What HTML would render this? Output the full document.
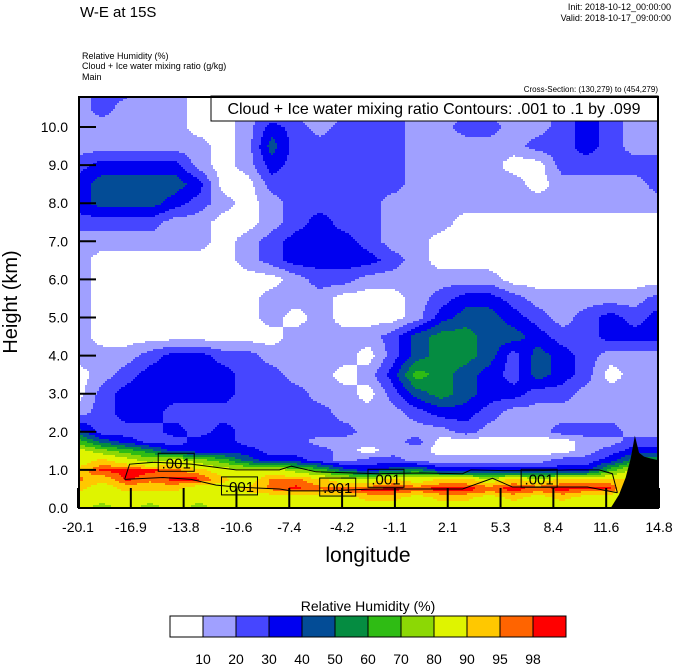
<!DOCTYPE html>
<html><head><meta charset="utf-8">
<style>
html,body{margin:0;padding:0;background:#fff;}
svg{display:block;font-family:"Liberation Sans",sans-serif;}
</style></head>
<body>
<svg id="chart" width="674" height="667" viewBox="0 0 674 667">
<text x="80" y="17" font-size="15">W-E at 15S</text>
<text x="671" y="10" font-size="9" text-anchor="end">Init: 2018-10-12_00:00:00</text>
<text x="671" y="21" font-size="9" text-anchor="end">Valid: 2018-10-17_09:00:00</text>
<text x="82" y="59" font-size="9">Relative Humidity   (%)</text>
<text x="82" y="69" font-size="9">Cloud + Ice water mixing ratio   (g/kg)</text>
<text x="82" y="80" font-size="9">Main</text>
<text x="658" y="92" font-size="8" text-anchor="end">Cross-Section: (130,279) to (454,279)</text>
<g id="field"></g>
<g id="terrain"></g>
<g id="contours"></g>
<g id="ticks"></g>
<rect x="211" y="96" width="447" height="25" fill="#fff" stroke="#000" stroke-width="1"/>
<text x="434" y="114" font-size="16" text-anchor="middle">Cloud + Ice water mixing ratio Contours: .001 to .1 by .099</text>
<rect x="79" y="97" width="579" height="411" fill="none" stroke="#000" stroke-width="2"/>
<g id="ylabels"></g>
<g id="xlabels"></g>
<text transform="translate(17,302) rotate(-90)" font-size="20" text-anchor="middle">Height (km)</text>
<text x="368" y="562" font-size="21" text-anchor="middle">longitude</text>
<text x="368" y="611" font-size="14" text-anchor="middle">Relative Humidity  (%)</text>
<g id="cbar"></g>
</svg>
<script>
const NS="http://www.w3.org/2000/svg";
// ---- data ----
const xTickLabels=["-20.1","-16.9","-13.8","-10.6","-7.4","-4.2","-1.1","2.1","5.3","8.4","11.6","14.8"];
const yTickLabels=["0.0","1.0","2.0","3.0","4.0","5.0","6.0","7.0","8.0","9.0","10.0"];
const levels=[10,20,30,40,50,60,70,80,90,95,98];
const levelLabels=["10","20","30","40","50","60","70","80","90","95","98"];
const colors=["#ffffff","#a0a0ff","#4646ff","#0000f0","#034c96","#058c41","#2fbc14","#8cd805","#dff400","#ffc800","#ff6400","#ff0000"];
const heights=[0,0.25,0.5,0.75,1.0,1.25,1.5,1.75,2,2.5,3,3.5,4,4.5,5,5.5,6,6.5,7,7.5,8,8.5,9,9.5,10,10.5,11];
// RH rows (%) by height, 25 columns from lon -20.1 to 14.8
const W=5,L=15,M=25,B=35,D=45,G=55,g=65,y=75,Y=85,O=92,R=96,X=99;
const rh=[
[Y,y,Y,y,Y,y,Y,Y,Y,Y,Y,Y,Y,Y,Y,Y,Y,Y,Y,Y,Y,Y,Y,y,y],
[Y,Y,Y,Y,Y,Y,Y,Y,Y,Y,Y,Y,O,O,Y,O,O,Y,O,Y,O,Y,Y,y,y],
[O,Y,O,O,O,Y,Y,O,R,X,R,X,X,X,X,X,X,X,X,X,X,X,X,Y,Y],
[R,O,X,R,X,X,O,Y,R,R,O,Y,Y,O,Y,O,O,Y,O,Y,O,O,O,O,O],
[O,X,X,X,R,O,Y,Y,Y,y,g,D,B,D,G,B,B,B,B,B,B,B,g,Y,Y],
[Y,O,Y,y,Y,y,g,D,B,B,M,L,M,M,L,L,L,L,L,L,M,M,B,G,G],
[Y,y,g,G,B,B,B,B,M,M,M,L,W,L,L,W,W,W,W,W,W,L,M,B,B],
[g,D,B,M,M,B,B,M,M,M,L,L,L,L,M,W,W,W,W,W,W,L,L,M,M],
[D,M,M,M,B,M,B,M,M,M,M,M,L,L,L,L,M,L,L,L,M,M,M,L,L],
[L,M,B,B,M,M,M,M,M,M,M,L,L,L,M,B,B,M,L,L,L,L,L,L,L],
[W,M,B,B,B,B,B,M,M,M,L,L,W,M,D,G,D,B,B,M,M,L,L,L,L],
[W,L,M,B,B,B,B,M,M,L,L,W,L,B,g,G,D,B,M,D,B,M,W,L,L],
[L,L,L,M,B,B,M,M,L,L,L,L,W,M,D,G,G,D,M,D,B,M,L,L,L],
[L,W,W,W,W,W,W,W,W,L,L,L,L,M,D,G,G,D,D,B,M,M,B,B,B],
[L,W,W,W,W,W,W,W,L,W,L,W,W,W,L,B,D,D,B,M,L,M,B,M,B],
[L,W,W,W,W,W,W,W,L,L,L,W,W,W,L,M,B,B,M,L,L,L,L,L,M],
[L,W,W,W,W,W,W,W,W,L,M,M,L,L,L,L,L,L,W,W,W,W,W,W,W],
[L,W,W,W,W,W,W,L,M,B,B,B,B,M,L,W,W,W,W,W,W,W,W,W,W],
[L,L,L,L,L,L,W,L,M,B,B,B,M,L,L,W,W,W,W,W,W,W,W,W,W],
[M,M,M,M,L,L,W,W,L,M,B,M,M,L,L,L,W,W,W,W,W,W,W,W,W],
[B,D,D,D,B,M,L,W,L,M,M,M,M,L,L,L,L,L,L,L,L,L,L,L,L],
[B,D,D,D,D,B,W,W,M,M,M,M,M,M,L,L,L,L,L,W,L,L,L,L,M],
[M,B,B,B,B,L,W,L,B,M,M,M,M,M,L,L,L,L,W,W,M,M,M,M,M],
[L,L,L,L,L,L,W,L,D,M,M,M,M,M,L,L,L,L,L,M,M,B,M,L,L],
[L,L,L,L,L,W,W,L,B,M,L,M,M,M,L,L,M,M,L,L,M,B,M,L,L],
[L,M,L,L,L,W,W,L,L,L,L,L,L,M,L,L,L,L,L,L,M,B,M,L,L],
[L,M,M,L,L,W,W,L,L,L,L,L,L,M,L,L,L,L,L,L,M,M,L,L,L]
];
const terrainLon=[11.9,12.4,12.8,13.1,13.35,13.6,13.9,14.3,14.8];
const terrainH=[0,0.35,0.8,1.3,1.9,1.45,1.35,1.3,1.25];
const contourTopLon=[-17.3,-17.0,-15.5,-13.3,-11.5,-10.6,-8.0,-7.3,-5.8,-3.6,-2.0,0.5,3.0,3.5,5.5,7.5,9.5,11.2,12.0,12.3];
const contourTopH=[0.75,1.15,1.2,1.15,1.05,1.0,1.0,1.1,0.95,0.92,0.9,0.92,0.9,1.0,0.98,0.98,1.0,1.0,0.9,0.4];
const contourBotLon=[-17.3,-15.0,-13.3,-11.8,-10.6,-8.0,-7.3,-5.0,-2.5,0,3.0,4.8,6.0,8.0,10.5,12.3];
const contourBotH=[0.75,0.8,0.75,0.6,0.55,0.5,0.45,0.45,0.5,0.5,0.5,0.78,0.55,0.55,0.55,0.4];
const labelLon=[-14.2,-10.4,-4.5,-1.6,7.6];
const labelH=[1.2,0.58,0.55,0.78,0.78];
// ---- axes ----
const X0=78,X1=659,Y0=508,KM=38.1,LON0=-20.1,LON1=14.8;
const xs=lon=>X0+(lon-LON0)/(LON1-LON0)*(X1-X0);
const ys=h=>Y0-h*KM;
const colorOf=v=>{let k=0;for(let i=0;i<levels.length;i++)if(v>=levels[i])k=i+1;return colors[k];};
function mk(tag,attrs,parent){const e=document.createElementNS(NS,tag);for(const k in attrs)e.setAttribute(k,attrs[k]);parent.appendChild(e);return e;}
// field
const field=document.getElementById('field');
const ncol=rh[0].length, step=2;
for(let py=97;py<508;py+=step){
  const h=(Y0-(py+step/2))/KM;
  let r=0;while(r<heights.length-2&&heights[r+1]<h)r++;
  const t=Math.max(0,Math.min(1,(h-heights[r])/(heights[r+1]-heights[r])));
  let runStart=X0+1,runColor=null;
  for(let px=X0+1;px<=X1;px+=step){
    let c=null;
    if(px<X1){
      const fx=(px+step/2-X0)/(X1-X0)*(ncol-1);
      const i=Math.min(ncol-2,Math.floor(fx)),u=fx-i;
      const v=(1-t)*((1-u)*rh[r][i]+u*rh[r][i+1])+t*((1-u)*rh[r+1][i]+u*rh[r+1][i+1]);
      c=colorOf(v);
    }
    if(c!==runColor){
      if(runColor){
        const rc=mk('rect',{x:runStart,y:py,width:px-runStart,height:step,fill:runColor},field);
        
        
      }
      runStart=px;runColor=c;
    }
  }
}
// terrain
const tg=document.getElementById('terrain');
let tp=`M${xs(terrainLon[0])},${Y0}`;
terrainLon.forEach((l,i)=>{tp+=` L${xs(l)},${ys(terrainH[i])}`;});
tp+=` L${X1},${Y0} Z`;
const tpath=mk('path',{d:tp,fill:'#000'},tg);


// contours
const cg=document.getElementById('contours');
function line(lons,hs,name){
  const d=lons.map((l,i)=>(i?'L':'M')+xs(l)+','+ys(hs[i])).join(' ');
  const p=mk('path',{d:d,fill:'none',stroke:'#000','stroke-width':1},cg);
  
  
}
line(contourTopLon,contourTopH,'contour-upper');
line(contourBotLon,contourBotH,'contour-lower');
labelLon.forEach((l,i)=>{
  const cx=xs(l),cy=ys(labelH[i]);
  const b=mk('rect',{x:cx-18,y:cy-9,width:36,height:18,fill:'none',stroke:'#000','stroke-width':1},cg);
  
  
  const tx=mk('text',{x:cx,y:cy+6,'font-size':15,'text-anchor':'middle'},cg);
  tx.textContent='.001';
  
  
});
// ticks and labels
const tk=document.getElementById('ticks'),yl=document.getElementById('ylabels'),xl=document.getElementById('xlabels');
yTickLabels.forEach((s,i)=>{
  const yy=ys(i);
  const l=mk('line',{x1:X0,x2:X0+18,y1:yy,y2:yy,stroke:'#000','stroke-width':2},tk);
  
  
  const t=mk('text',{x:68,y:yy+5,'font-size':14,'text-anchor':'end'},yl);
  t.textContent=s;
  
  
});
xTickLabels.forEach((s,i)=>{
  const xx=X0+i*(X1-X0)/(xTickLabels.length-1);
  const l=mk('line',{x1:xx,x2:xx,y1:Y0,y2:Y0-20,stroke:'#000','stroke-width':2},tk);
  
  
  const t=mk('text',{x:xx,y:532,'font-size':14,'text-anchor':'middle'},xl);
  t.textContent=s;
  
  
});
// colorbar
const cb=document.getElementById('cbar');
const cw=33,cx0=170,cy0=616;
colors.forEach((c,i)=>{
  const r=mk('rect',{x:cx0+i*cw,y:cy0,width:cw,height:21,fill:c,stroke:'#000','stroke-width':1},cb);
  
  
});
levelLabels.forEach((s,i)=>{
  const t=mk('text',{x:cx0+(i+1)*cw,y:664,'font-size':14,'text-anchor':'middle'},cb);
  t.textContent=s;
  
  
});
</script>
</body></html>
